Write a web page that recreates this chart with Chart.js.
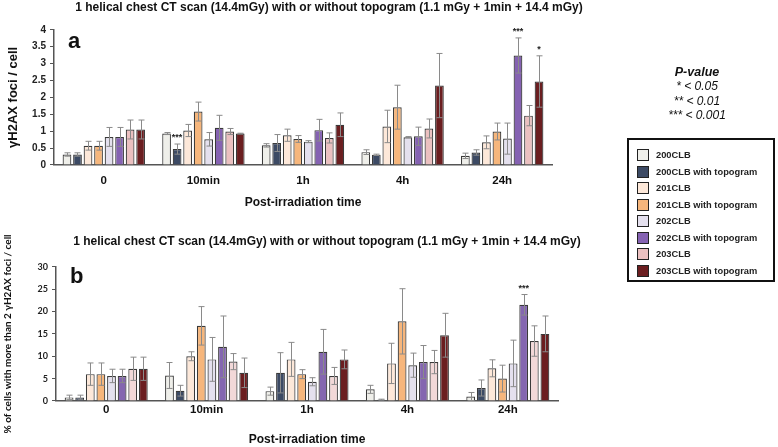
<!DOCTYPE html>
<html>
<head>
<meta charset="utf-8">
<script src="https://cdn.jsdelivr.net/npm/chart.js@4.4.1/dist/chart.umd.min.js"></script>
<style>
  html, body { margin: 0; padding: 0; background: #fff; }
  body { width: 778px; height: 447px; position: relative; overflow: hidden; font-family: "Liberation Sans", Arial, sans-serif; }
  #wrapA { position: absolute; left: 0; top: 0; width: 652px; height: 212px; }
  #wrapB { position: absolute; left: 0; top: 225px; width: 652px; height: 222px; }
  #pval { position: absolute; left: 647px; top: 65px; width: 100px; text-align: center; font-style: italic; font-size: 12px; line-height: 14.4px; color: #111; }
  #pval b { font-size: 12.5px; }
  #legend { position: absolute; left: 627px; top: 138px; width: 148px; height: 144px; border: 2px solid #111; box-sizing: border-box; padding: 7px 0 0 8px; }
  .item { height: 16.5px; display: flex; align-items: center; font-weight: bold; font-size: 9.3px; color: #222; }
  .sw { width: 10px; height: 10px; border: 1.5px solid #222; margin-right: 7px; }
</style>
</head>
<body>
<div id="wrapA"><canvas id="chartA"></canvas></div>
<div id="wrapB"><canvas id="chartB"></canvas></div>
<div id="pval"><b>P-value</b><br>* &lt; 0.05<br>** &lt; 0.01<br>*** &lt; 0.001</div>
<div id="legend"></div>
<script>
// 時間点
const categories = ['0', '10min', '1h', '4h', '24h'];
const seriesNames = ['200CLB', '200CLB with topogram', '201CLB', '201CLB with topogram',
                     '202CLB', '202CLB with topogram', '203CLB', '203CLB with topogram'];

// (a) γH2AX foci / cell
const a200  = [0.31, 0.93, 0.58, 0.38, 0.27];
const a200t = [0.31, 0.47, 0.65, 0.30, 0.37];
const a201  = [0.57, 1.02, 0.88, 1.14, 0.67];
const a201t = [0.57, 1.58, 0.77, 1.71, 0.99];
const a202  = [0.83, 0.76, 0.69, 0.82, 0.78];
const a202t = [0.83, 1.10, 1.03, 0.85, 3.24];
const a203  = [1.05, 0.99, 0.80, 1.08, 1.46];
const a203t = [1.05, 0.93, 1.19, 2.35, 2.47];
// (a) error
const ea200  = [0.05, 0.03, 0.05, 0.07, 0.08];
const ea200t = [0.05, 0.15, 0.25, 0.02, 0.08];
const ea201  = [0.13, 0.18, 0.18, 0.48, 0.19];
const ea201t = [0.13, 0.28, 0.10, 0.65, 0.25];
const ea202  = [0.28, 0.20, 0.03, 0.02, 0.46];
const ea202t = [0.28, 0.37, 0.32, 0.27, 0.52];
const ea203  = [0.28, 0.09, 0.15, 0.28, 0.30];
const ea203t = [0.28, 0.01, 0.35, 0.95, 0.76];

// (b) % of cells with more than 2 foci
const b200  = [0.8, 5.7, 2.2, 2.6, 1.0];
const b200t = [0.8, 2.3, 6.3, 0.3, 2.9];
const b201  = [6.0, 10.0, 9.3, 8.4, 7.3];
const b201t = [6.0, 16.8, 6.0, 17.8, 5.0];
const b202  = [5.6, 9.3, 4.3, 8.0, 8.4];
const b202t = [5.6, 12.1, 11.0, 8.7, 21.5];
const b203  = [7.2, 8.8, 5.6, 8.7, 13.4];
const b203t = [7.2, 6.3, 9.3, 14.7, 15.0];
// (b) error
const eb200  = [0.5, 2.9, 0.9, 0.9, 0.9];
const eb200t = [0.5, 1.2, 4.5, 0.1, 1.8];
const eb201  = [2.5, 1.0, 3.8, 4.5, 1.9];
const eb201t = [2.5, 4.3, 1.0, 7.3, 3.0];
const eb202  = [1.5, 4.9, 0.9, 2.7, 5.2];
const eb202t = [1.5, 6.9, 5.0, 3.7, 2.3];
const eb203  = [2.6, 1.8, 1.9, 2.6, 3.4];
const eb203t = [2.6, 3.3, 2.1, 4.9, 4.0];

// 有意差 [category index, series index, mark]
const sigA = [[1, 1, '***'], [4, 5, '***'], [4, 7, '*']];
const sigB = [[4, 5, '***']];

const yTicksA = [0, 0.5, 1, 1.5, 2, 2.5, 3, 3.5, 4];
const yTicksB = [0, 5, 10, 15, 20, 25, 30];

const colorsA = ['#efefea', '#3c4a64', '#fde8d9', '#f6b67c', '#e4e0ee', '#8562b2', '#ebc0c0', '#6b1e20'];
const colorsB = ['#efefea', '#3c4a64', '#fde8d9', '#f6b67c', '#e4e0ee', '#8466b0', '#f2d8d8', '#6b1e20'];
const border = '#3a3a3a';

// 凡例 (HTML)
const legendEl = document.getElementById('legend');
seriesNames.forEach((n, i) => {
    legendEl.insertAdjacentHTML('beforeend',
        `<div class="item"><span class="sw" style="background:${colorsA[i]}"></span>${n}</div>`);
});

// エラーバー + 有意差マーク + パネル記号
const errorBarPlugin = {
    id: 'errorBars',
    afterDatasetsDraw(chart, args, opts) {
        const ctx = chart.ctx;
        const y = chart.scales.y;
        ctx.save();
        ctx.strokeStyle = '#8a8a8a';
        ctx.lineWidth = 1;
        chart.data.datasets.forEach((ds, i) => {
            const meta = chart.getDatasetMeta(i);
            meta.data.forEach((bar, j) => {
                const v = ds.data[j], e = ds.errors[j];
                const top = y.getPixelForValue(v + e);
                const bot = y.getPixelForValue(Math.max(0, v - e));
                const x = Math.round(bar.x) + 0.5;
                ctx.beginPath();
                ctx.moveTo(x, top); ctx.lineTo(x, bot);
                ctx.moveTo(x - 3, top); ctx.lineTo(x + 3, top);
                ctx.moveTo(x - 3, bot); ctx.lineTo(x + 3, bot);
                ctx.stroke();
            });
        });
        ctx.fillStyle = '#222';
        ctx.font = 'bold 9px "Liberation Sans", Arial';
        ctx.textAlign = 'center';
        ctx.textBaseline = 'bottom';
        (opts.marks || []).forEach(([c, s, t]) => {
            const ds = chart.data.datasets[s];
            const bar = chart.getDatasetMeta(s).data[c];
            const top = y.getPixelForValue(ds.data[c] + ds.errors[c]);
            ctx.fillText(t, bar.x, top - 2);
        });
        ctx.font = 'bold 22px "Liberation Sans", Arial';
        ctx.textAlign = 'left';
        ctx.textBaseline = 'alphabetic';
        ctx.fillStyle = '#111';
        ctx.fillText(opts.letter, chart.chartArea.left + 14, chart.chartArea.top + opts.letterY);
        ctx.restore();
    }
};

function makeDatasets(values, errors, colors) {
    return values.map((v, i) => ({
        label: seriesNames[i],
        data: v,
        errors: errors[i],
        backgroundColor: colors[i],
        borderColor: border,
        borderWidth: 1.2,
        categoryPercentage: 0.845,
        barPercentage: 0.83
    }));
}

const titleText = '1 helical chest CT scan (14.4mGy) with or without topogram (1.1 mGy + 1min + 14.4 mGy)';

function makeChart(id, values, errors, opt) {
    return new Chart(document.getElementById(id), {
        type: 'bar',
        data: { labels: categories, datasets: makeDatasets(values, errors, opt.colors) },
        plugins: [errorBarPlugin],
        options: {
            responsive: true,
            maintainAspectRatio: false,
            animation: false,
            layout: { padding: opt.padding },
            plugins: {
                legend: { display: false },
                tooltip: { enabled: false },
                title: {
                    display: true,
                    text: titleText,
                    color: '#111',
                    font: { family: '"Liberation Sans", Arial', size: 12, weight: 'bold', lineHeight: 1.15 },
                    padding: opt.titlePad
                },
                errorBars: { marks: opt.marks, letter: opt.letter, letterY: opt.letterY }
            },
            scales: {
                x: {
                    grid: { display: false, drawTicks: false },
                    border: { display: true, color: '#555', width: 1.5 },
                    ticks: { color: '#111', padding: opt.xTickPad, font: { family: '"Liberation Sans", Arial', size: 11.5, weight: 'bold', lineHeight: 1.15 } },
                    title: {
                        display: true,
                        text: 'Post-irradiation time',
                        color: '#111',
                        padding: { top: opt.xTitleTop, bottom: 0 },
                        font: { family: '"Liberation Sans", Arial', size: 12, weight: 'bold', lineHeight: 1.15 }
                    }
                },
                y: {
                    min: 0,
                    max: opt.max,
                    afterBuildTicks: (s) => { s.ticks = opt.ticks.map(v => ({ value: v })); },
                    afterFit: (s) => { s.width = opt.yWidth; },
                    grid: { drawOnChartArea: false, drawTicks: true, tickLength: 4, color: '#555' },
                    border: { display: true, color: '#555', width: 1.5 },
                    ticks: { color: '#222', padding: 4, font: opt.tickFont, callback: (v) => String(v) },
                    title: {
                        display: true,
                        text: opt.yTitle,
                        color: '#111',
                        padding: { top: 0, bottom: 0 },
                        font: opt.yTitleFont
                    }
                },
                yr: {
                    position: 'right',
                    display: true,
                    grid: { display: false },
                    border: { display: false },
                    ticks: { display: false },
                    afterFit: (s) => { s.width = opt.rightWidth; }
                }
            }
        }
    });
}

makeChart('chartA',
    [a200, a200t, a201, a201t, a202, a202t, a203, a203t],
    [ea200, ea200t, ea201, ea201t, ea202, ea202t, ea203, ea203t],
    {
        colors: colorsA,
        max: 4, ticks: yTicksA, marks: sigA, letter: 'a', letterY: 18,
        yTitle: 'γH2AX foci / cell',
        yTitleFont: { family: '"Liberation Sans", Arial', size: 13, weight: 'bold' },
        tickFont: { family: '"Liberation Sans", Arial', size: 10, weight: 'bold' },
        yWidth: 48, rightWidth: 100,
        padding: { left: 6, top: 1, bottom: 2, right: 0 },
        titlePad: { top: 0, bottom: 15 },
        xTickPad: 9,
        xTitleTop: 0
    });

makeChart('chartB',
    [b200, b200t, b201, b201t, b202, b202t, b203, b203t],
    [eb200, eb200t, eb201, eb201t, eb202, eb202t, eb203, eb203t],
    {
        colors: colorsB,
        max: 30, ticks: yTicksB, marks: sigB, letter: 'b', letterY: 16,
        yTitle: '% of cells with more than 2 γH2AX foci / cell',
        yTitleFont: { family: 'Lato, "Open Sans", sans-serif', size: 10, weight: 'bold' },
        tickFont: { family: 'Lato, "Open Sans", sans-serif', size: 9, weight: 'bold' },
        yWidth: 54, rightWidth: 94,
        padding: { left: 2, top: 10, bottom: 0, right: 0 },
        titlePad: { top: 0, bottom: 18 },
        xTickPad: 2,
        xTitleTop: 15
    });
</script>
</body>
</html>
